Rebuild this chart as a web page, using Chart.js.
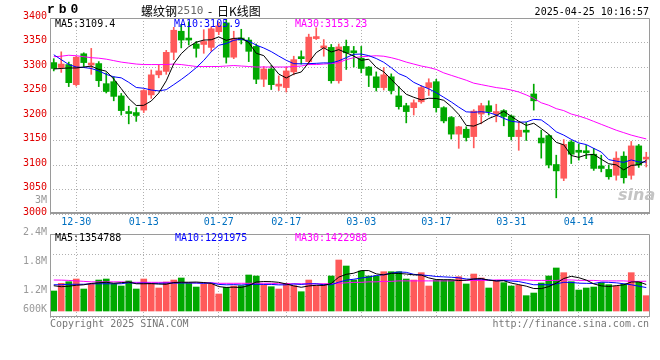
<!DOCTYPE html>
<html><head><meta charset="utf-8">
<script src="https://cdn.jsdelivr.net/npm/chart.js@4.4.1/dist/chart.umd.min.js"></script>
<style>
html,body{margin:0;padding:0;background:#fff;}
#wrap{position:relative;width:660px;height:360px;overflow:hidden;background:#fff;font-family:"DejaVu Sans Mono",monospace;}
canvas{position:absolute;left:0;}
.t{position:absolute;white-space:pre;font-size:10px;line-height:12px;font-family:"DejaVu Sans Mono",monospace;}
.cjk{font-family:"Noto Sans CJK SC",sans-serif;font-size:12px;line-height:16px;}
</style></head><body>
<div id="wrap">
<canvas id="main" width="660" height="232" style="top:0;width:660px;height:232px"></canvas>
<canvas id="vol" width="660" height="104" style="top:222px;width:660px;height:104px"></canvas>
<div class="t" style="left:47px;top:3px;font:bold 13px 'Liberation Mono',monospace;line-height:14px;letter-spacing:4px;">rb0</div>
<div class="t cjk" style="left:141px;top:3px;color:#000">螺纹钢</div>
<div class="t" style="left:177px;top:5px;color:#666;font-size:11px;">2510</div>
<div class="t cjk" style="left:208px;top:3px;color:#000">-</div>
<div class="t cjk" style="left:217px;top:3px;color:#000">日K线图</div>
<div class="t" style="right:11px;top:6px;color:#000">2025-04-25 10:16:57</div>
<div class="t" id="lg5" style="left:55px;top:18px;color:#000"></div>
<div class="t" id="lg10" style="left:174px;top:18px;color:#0000ff"></div>
<div class="t" id="lg30" style="left:295px;top:18px;color:#ff00ff"></div>
<div class="t" id="vlg5" style="left:55px;top:232px;color:#000"></div>
<div class="t" id="vlg10" style="left:175px;top:232px;color:#0000ff"></div>
<div class="t" id="vlg30" style="left:295px;top:232px;color:#ff00ff"></div>
<div class="t" style="right:613px;top:194px;color:#999">3M</div>
<div class="t" style="left:618px;top:186px;color:#c4c4c4;font:italic bold 16px 'DejaVu Sans',sans-serif;line-height:18px;">sina</div>
<div class="t" style="left:50px;top:318px;color:#777">Copyright 2025 SINA.COM</div>
<div class="t" style="right:11px;top:318px;color:#777">http://finance.sina.com.cn</div>
</div>
<script>
const DATES = ['12-25','12-26','12-27','12-30','12-31','01-02','01-03','01-06','01-07','01-08',
'01-09','01-10','01-13','01-14','01-15','01-16','01-17','01-20','01-21','01-22',
'01-23','01-24','01-27','02-05','02-06','02-07','02-10','02-11','02-12','02-13',
'02-14','02-17','02-18','02-19','02-20','02-21','02-24','02-25','02-26','02-27',
'02-28','03-03','03-04','03-05','03-06','03-07','03-10','03-11','03-12','03-13',
'03-14','03-17','03-18','03-19','03-20','03-21','03-24','03-25','03-26','03-27',
'03-28','03-31','04-01','04-02','04-03','04-07','04-08','04-09','04-10','04-11',
'04-14','04-15','04-16','04-17','04-18','04-21','04-22','04-23','04-24','04-25'];
const TICK_DATES = ['12-30','01-13','01-27','02-17','03-03','03-17','03-31','04-14'];
const PRICE_TICK_STEP = 50;
const OPEN = [3309,3299,3305,3264,3327,3304,3307,3266,3270,3241,3209,3207,3212,3243,3284,3291,3330,3373,3358,3347,
3346,3340,3372,3390,3320,3358,3355,3342,3275,3296,3261,3258,3290,3319,3311,3358,3339,3340,3272,3342,
3333,3318,3300,3280,3258,3280,3241,3221,3217,3229,3258,3270,3217,3197,3163,3173,3158,3204,3221,3205,
3211,3200,3158,3171,3245,3155,3160,3101,3073,3147,3130,3128,3122,3098,3091,3079,3118,3079,3139,3112];
const HIGH = [3317,3331,3310,3322,3329,3338,3311,3288,3280,3246,3220,3217,3254,3294,3305,3334,3381,3387,3392,3352,
3376,3382,3390,3398,3373,3377,3360,3347,3301,3303,3282,3300,3322,3333,3367,3380,3356,3346,3347,3355,
3342,3342,3301,3290,3299,3286,3260,3226,3233,3262,3276,3275,3219,3199,3179,3178,3213,3226,3231,3224,
3213,3202,3188,3187,3265,3171,3162,3120,3152,3150,3143,3140,3134,3120,3100,3127,3127,3148,3142,3126];
const LOW = [3292,3289,3260,3261,3301,3285,3260,3247,3231,3202,3184,3189,3207,3236,3278,3285,3315,3339,3345,3320,
3328,3332,3366,3308,3317,3347,3311,3266,3260,3254,3252,3249,3284,3306,3305,3356,3322,3267,3267,3295,
3300,3288,3260,3251,3253,3245,3214,3186,3202,3226,3242,3208,3186,3153,3134,3149,3135,3184,3202,3188,
3180,3151,3130,3150,3212,3114,3094,3033,3068,3103,3110,3113,3089,3086,3071,3069,3063,3071,3095,3096];
const CLOSE = [3297,3306,3268,3320,3309,3306,3272,3250,3240,3211,3205,3201,3252,3284,3292,3330,3375,3355,3355,3338,
3352,3378,3384,3320,3358,3355,3332,3275,3296,3264,3263,3292,3315,3317,3361,3362,3341,3272,3341,3329,
3329,3297,3283,3258,3284,3252,3219,3209,3227,3258,3268,3217,3190,3163,3178,3156,3210,3221,3209,3209,
3199,3158,3171,3167,3231,3145,3100,3088,3142,3122,3126,3125,3093,3093,3076,3114,3074,3139,3100,3115];
const MA5 = [3296,3297,3298,3298,3300.0,3301.8,3295.0,3291.4,3275.4,3255.8,3235.6,3221.4,3221.8,3230.6,3246.8,3271.8,3306.6,3327.2,3341.4,3350.6,
3355.0,3355.6,3361.4,3354.4,3358.4,3359.0,3349.8,3328.0,3323.2,3304.4,3285.6,3277.6,3285.6,3289.8,3309.2,3329.4,3339.2,3330.6,3335.4,3329.0,
3322.4,3313.6,3315.8,3299.2,3290.2,3274.8,3259.2,3244.4,3238.2,3233.0,3236.2,3235.8,3232.0,3219.2,3203.2,3180.8,3179.4,3185.6,3194.8,3201.0,
3209.6,3199.2,3189.2,3180.8,3185.2,3174.4,3162.8,3146.2,3141.2,3119.4,3115.6,3120.6,3121.6,3111.8,3102.6,3100.2,3090.0,3099.2,3100.6,3109.4];
const MA10 = [3325,3315,3305,3300,3299,3297,3292,3285,3280,3277.9,3268.7,3258.2,3256.6,3253.0,3251.3,3253.7,3264.0,3274.5,3286.0,3298.7,
3313.4,3331.1,3344.3,3347.9,3354.5,3357.0,3352.7,3344.7,3338.8,3331.4,3322.3,3313.7,3306.8,3306.5,3306.8,3307.5,3308.4,3308.1,3312.6,3319.1,
3325.9,3326.4,3323.2,3317.3,3309.6,3298.6,3286.4,3280.1,3268.7,3261.6,3255.5,3247.5,3238.2,3228.7,3218.1,3208.5,3207.6,3208.8,3207.0,3202.1,
3195.2,3189.3,3187.4,3187.8,3193.1,3192.0,3181.0,3167.7,3161.0,3152.3,3145.0,3141.7,3133.9,3126.5,3111.0,3107.9,3105.3,3110.4,3106.2,3105.9];
const MA30 = [3321,3322,3324,3323,3321,3319,3318,3316,3313,3310,3308,3306,3305,3305,3305,3305,3306,3305,3303,3301,
3301,3301,3301,3302,3303,3302,3301,3300,3300,3300,3300,3300,3301,3302,3305,3305,3306,3307,3309,3315,
3319,3321,3322,3323,3322,3319,3315,3310,3306,3302,3299,3295,3288,3283,3278,3273,3267,3264,3261,3258,
3256,3253,3249,3243,3236,3227,3222,3215,3211,3204,3200,3195,3189,3183,3177,3171,3166,3161,3157,3153.23];
const VOLUME = [1221000,1380000,1413000,1469000,1262000,1359000,1448000,1469000,1366000,1324000,
1428000,1262000,1469000,1380000,1283000,1407000,1448000,1490000,1380000,1303000,
1359000,1359000,1159000,1297000,1324000,1331000,1552000,1531000,1345000,1310000,
1262000,1380000,1331000,1206000,1448000,1331000,1366000,1531000,1862000,1738000,
1448000,1634000,1531000,1531000,1620000,1620000,1620000,1469000,1448000,1600000,
1324000,1448000,1448000,1448000,1517000,1366000,1572000,1490000,1283000,1428000,
1393000,1324000,1338000,1124000,1179000,1386000,1531000,1697000,1600000,1413000,
1241000,1283000,1303000,1393000,1352000,1324000,1366000,1600000,1407000,1124000];
const VOL_MA5 = [1330000,1310000,1320000,1340000,1349000,1377000,1390000,1401000,1381000,1393000,
1407000,1370000,1370000,1373000,1364000,1360000,1397000,1402000,1402000,1406000,
1396000,1378000,1312000,1295000,1300000,1294000,1333000,1407000,1417000,1414000,
1400000,1366000,1326000,1298000,1325000,1339000,1336000,1376000,1508000,1566000,
1589000,1643000,1643000,1576000,1553000,1587000,1584000,1572000,1555000,1551000,
1492000,1458000,1454000,1454000,1437000,1445000,1470000,1479000,1446000,1428000,
1433000,1384000,1353000,1321000,1272000,1270000,1312000,1383000,1479000,1525000,
1496000,1447000,1368000,1327000,1314000,1331000,1348000,1407000,1410000,1354788];
const VOL_MA10 = [1350000,1350000,1360000,1360000,1360000,1370000,1370000,1370000,1370000,1371000,
1392000,1380000,1386000,1377000,1379000,1384000,1384000,1386000,1387000,1385000,
1378000,1388000,1357000,1349000,1353000,1345000,1355000,1360000,1356000,1357000,
1347000,1349000,1366000,1357000,1370000,1370000,1351000,1351000,1403000,1446000,
1464000,1490000,1510000,1542000,1559000,1588000,1614000,1607000,1566000,1552000,
1540000,1521000,1513000,1505000,1494000,1469000,1464000,1466000,1450000,1432000,
1439000,1427000,1416000,1384000,1350000,1352000,1348000,1368000,1400000,1399000,
1383000,1379000,1376000,1403000,1400000,1390000,1370000,1350000,1320000,1291975];
const VOL_MA30 = [1448000,1446000,1440000,1430000,1420000,1410000,1410000,1410000,1410000,1410000,
1400000,1400000,1400000,1400000,1400000,1400000,1400000,1400000,1390000,1390000,
1390000,1390000,1380000,1380000,1380000,1380000,1380000,1380000,1380000,1380000,
1370000,1370000,1370000,1370000,1370000,1370000,1370000,1370000,1380000,1390000,
1400000,1400000,1410000,1410000,1420000,1420000,1430000,1430000,1430000,1430000,
1430000,1430000,1430000,1430000,1440000,1440000,1440000,1440000,1440000,1450000,
1450000,1450000,1450000,1450000,1440000,1440000,1440000,1440000,1450000,1450000,
1440000,1440000,1440000,1430000,1430000,1430000,1430000,1420000,1420000,1422988];
const VOL_TICK_VALUES = [2400000,1800000,1200000,807000];
const VOL_TICK_LABELS = ['2.4M','1.8M','1.2M','600K'];
const VOL_MIN = 683000, VOL_MAX = 2400000, VOL_BASE = 807000;

const UP = '#ff5a5a', DOWN = '#00a800';
const GRID = '#b0b0b0', FRAME = '#9a9a9a';
const MONO = "'DejaVu Sans Mono', monospace";

document.getElementById('lg5').textContent = 'MA5:' + MA5[MA5.length-1].toFixed(1);
document.getElementById('lg10').textContent = 'MA10:' + MA10[MA10.length-1].toFixed(1);
document.getElementById('lg30').textContent = 'MA30:' + MA30[MA30.length-1].toFixed(2);
document.getElementById('vlg5').textContent = 'MA5:' + VOL_MA5[VOL_MA5.length-1];
document.getElementById('vlg10').textContent = 'MA10:' + VOL_MA10[VOL_MA10.length-1];
document.getElementById('vlg30').textContent = 'MA30:' + VOL_MA30[VOL_MA30.length-1];

Chart.defaults.animation = false;
Chart.defaults.font.family = MONO;
Chart.defaults.font.size = 10;

const colors = CLOSE.map((c,i) => c >= OPEN[i] ? UP : DOWN);
const tickIdx = TICK_DATES.map(d => DATES.indexOf(d));
const pts = arr => arr.map((v,i) => ({x:i, y:v}));

const framePlugin = {
  id: 'frame',
  afterDraw(chart, args, opts) {
    const {ctx, chartArea:a} = chart;
    ctx.save();
    ctx.strokeStyle = FRAME;
    ctx.lineWidth = 1;
    const l = Math.round(a.left) + 0.5, r = Math.round(a.right) - 0.5;
    const t = Math.round(a.top) + 0.5, b = Math.round(a.bottom) - 0.5;
    ctx.beginPath();
    ctx.moveTo(l, b); ctx.lineTo(l, t); ctx.lineTo(r, t); ctx.lineTo(r, b);
    ctx.stroke();
    ctx.lineWidth = opts.bottomWidth || 1;
    ctx.beginPath();
    const bb = Math.round(a.bottom) - (opts.bottomWidth || 1) / 2;
    ctx.moveTo(l - 0.5, bb); ctx.lineTo(r + 0.5, bb);
    ctx.stroke();
    ctx.restore();
  }
};

function xScale(showLabels) {
  return {
    type: 'linear', min: -0.5, max: DATES.length - 0.5, offset: false,
    afterBuildTicks: s => { s.ticks = tickIdx.map(v => ({value: v})); },
    afterFit: s => { s.height = showLabels ? 18 : 0; },
    grid: {color: GRID, lineWidth: 1, drawTicks: false, offset: false},
    border: {display: false, dash: [1, 2]},
    ticks: {display: showLabels, color: '#0070c0', padding: 2, autoSkip: false, maxRotation: 0,
            font: {family: MONO, size: 10}, callback: v => DATES[Math.round(v)]}
  };
}

new Chart(document.getElementById('main'), {
  type: 'bar',
  data: { datasets: [
    {type: 'line', data: pts(MA5), borderColor: '#000000', borderWidth: 1, pointRadius: 0, order: 0},
    {type: 'line', data: pts(MA10), borderColor: '#0000ff', borderWidth: 1, pointRadius: 0, order: 0},
    {type: 'line', data: pts(MA30), borderColor: '#ff00ff', borderWidth: 1, pointRadius: 0, order: 0},
    {type: 'bar', data: OPEN.map((o,i) => ({x:i, y:[Math.min(o, CLOSE[i]), Math.max(o, CLOSE[i])]})),
     backgroundColor: colors, barThickness: 6, minBarLength: 2, grouped: false, order: 1},
    {type: 'bar', data: LOW.map((l,i) => ({x:i, y:[l, HIGH[i]]})),
     backgroundColor: colors, barThickness: 1, grouped: false, order: 2}
  ]},
  options: {
    responsive: false, devicePixelRatio: 1, animation: false,
    layout: {padding: {left: 0, right: 10, top: 18, bottom: 0}},
    plugins: {legend: {display: false}, tooltip: {enabled: false}, frame: {bottomWidth: 2}},
    scales: {
      x: xScale(true),
      y: {
        min: 3000, max: 3400,
        afterFit: s => { s.width = 50; },
        grid: {color: GRID, lineWidth: 1, drawTicks: false},
        border: {display: false, dash: [1, 2]},
        ticks: {stepSize: PRICE_TICK_STEP, color: '#e00000', padding: 3, labelOffset: -2,
                font: {family: MONO, size: 10}, callback: v => String(v)}
      }
    }
  },
  plugins: [framePlugin]
});

new Chart(document.getElementById('vol'), {
  type: 'bar',
  data: { datasets: [
    {type: 'line', data: pts(VOL_MA5), borderColor: '#000000', borderWidth: 1, pointRadius: 0, order: 0},
    {type: 'line', data: pts(VOL_MA10), borderColor: '#0000ff', borderWidth: 1, pointRadius: 0, order: 0},
    {type: 'line', data: pts(VOL_MA30), borderColor: '#ff00ff', borderWidth: 1, pointRadius: 0, order: 0},
    {type: 'bar', data: pts(VOLUME), base: VOL_BASE, backgroundColor: colors, barThickness: 6,
     grouped: false, order: 1}
  ]},
  options: {
    responsive: false, devicePixelRatio: 1, animation: false,
    layout: {padding: {left: 0, right: 10, top: 12, bottom: 9}},
    plugins: {legend: {display: false}, tooltip: {enabled: false}, frame: {bottomWidth: 1}},
    scales: {
      x: xScale(false),
      y: {
        min: VOL_MIN, max: VOL_MAX, position: 'left',
        afterBuildTicks: s => { s.ticks = VOL_TICK_VALUES.map(v => ({value: v})); },
        afterFit: s => { s.width = 50; },
        grid: {display: false, drawTicks: false},
        border: {display: false},
        ticks: {color: '#999999', padding: 3, labelOffset: -2, autoSkip: false,
                font: {family: MONO, size: 10},
                callback: (v, i) => VOL_TICK_LABELS[i]}
      },
      yg: {
        min: VOL_MIN, max: VOL_MAX, position: 'left',
        afterBuildTicks: s => {
          const n = 4, st = (VOL_MAX - VOL_MIN) / n;
          s.ticks = Array.from({length: n + 1}, (_, k) => ({value: VOL_MIN + k * st}));
        },
        afterFit: s => { s.width = 0; },
        grid: {color: GRID, lineWidth: 1, drawTicks: false},
        border: {display: false, dash: [1, 2]},
        ticks: {display: false}
      }
    }
  },
  plugins: [framePlugin]
});
</script>
</body></html>
